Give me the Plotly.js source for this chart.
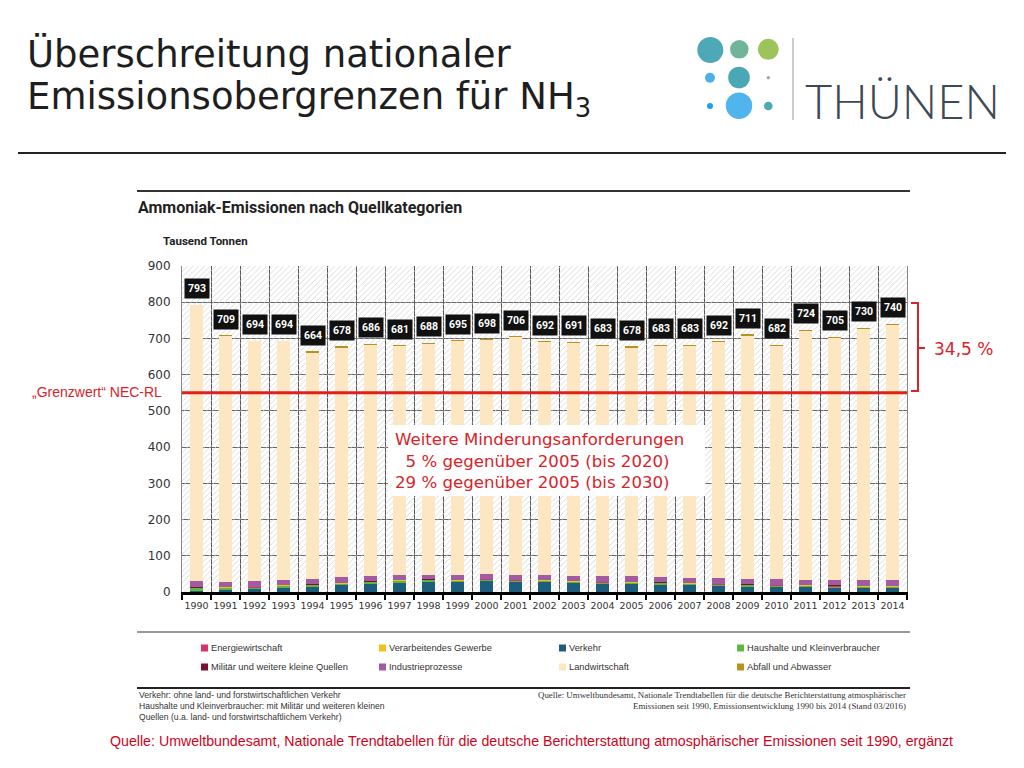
<!DOCTYPE html>
<html>
<head>
<meta charset="utf-8">
<script src="https://cdn.plot.ly/plotly-3.0.1.min.js"></script>
<style>html,body{margin:0;padding:0;background:#fff;}#chart{width:1024px;height:768px;}</style>
</head>
<body>
<div id="chart"></div>
<script>
// ---------- data ----------
const years = ['1990','1991','1992','1993','1994','1995','1996','1997','1998','1999','2000','2001','2002','2003','2004','2005','2006','2007','2008','2009','2010','2011','2012','2013','2014'];
const totals = [793,709,694,694,664,678,686,681,688,695,698,706,692,691,683,678,683,683,692,711,682,724,705,730,740];
const verkehr = [3,5,8,12,14,18,23,26,28,27,31,28,27,25,23,22,19,18,16,14,14,13,12,11,11];
const haushalte = [7,6,4,4,4,4,4,4,4,3,3,3,3,3,3,3,5,4,4,4,3,3,3,3,3];
const energie = [1,1,1,1,1,1,1,1,1,1,1,1,1,1,1,1,1,1,1,1,1,1,1,1,1];
const verarbeitend = [1,1,1,1,1,1,1,1,1,1,1,1,1,1,1,1,1,1,1,1,1,1,1,1,1];
const militaer = [1,1,1,1,1,1,1,1,1,1,1,1,1,1,1,1,1,1,1,1,1,1,1,1,1];
const industrie = [18,14,16,14,14,16,14,13,13,13,14,14,15,14,15,15,15,15,15,16,15,14,14,15,15];
const landwirtschaft = [761,680,662,660,626,634,639,632,637,646,644,655,641,643,636,632,638,640,651,671,644,688,670,695,705];
const abfall = [1,1,1,1,3,3,3,3,3,3,3,3,3,3,3,3,3,3,3,3,3,3,3,3,3];
const grenzwert = 550;
const yMax = 900;

const seriesNames = ['Verkehr','Haushalte und Kleinverbraucher','Energiewirtschaft','Verarbeitendes Gewerbe','Militär und weitere kleine Quellen','Industrieprozesse','Landwirtschaft','Abfall und Abwasser'];
const seriesData = [verkehr, haushalte, energie, verarbeitend, militaer, industrie, landwirtschaft, abfall];
const seriesColors = ['#1f5d7d','#5cb83c','#d6336b','#f2c019','#7d0f33','#a25ba0','#fde6c2','#b8921c'];

const legendRows = [
  ['Energiewirtschaft','Verarbeitendes Gewerbe','Verkehr','Haushalte und Kleinverbraucher'],
  ['Militär und weitere kleine Quellen','Industrieprozesse','Landwirtschaft','Abfall und Abwasser']
];

// ---------- pixel helpers (layout only) ----------
const W = 1024, H = 768, L = 182, R = 907, T = 266, B = 592;
const px = x => (x - L) / (R - L);
const py = y => (B - y) / (B - T);

const RED = '#d8232a';

// ---------- traces ----------
const traces = [];
// hatched background
traces.push({
  type: 'bar', x: years, y: years.map(() => yMax), width: 1,
  xaxis: 'x', yaxis: 'y',
  marker: {color: 'rgba(0,0,0,0)', line: {width: 0},
    pattern: {shape: '/', fgcolor: '#d2d2d2', bgcolor: 'rgba(0,0,0,0)', size: 4, solidity: 0.2}},
  hoverinfo: 'skip', showlegend: false
});
seriesNames.forEach((n, i) => {
  traces.push({
    type: 'bar', name: n, x: years, y: seriesData[i], width: 0.45,
    xaxis: 'x2', yaxis: 'y2',
    marker: {color: seriesColors[i], line: {width: 0}},
    showlegend: false
  });
});

// ---------- shapes ----------
const shapes = [];
const line = (x0, y0, x1, y1, color, w) => shapes.push({type: 'line', xref: 'paper', yref: 'paper', x0: px(x0), y0: py(y0), x1: px(x1), y1: py(y1), line: {color: color, width: w}});
line(18, 153, 1006, 153, '#222', 2);
line(137, 191, 910, 191, '#333', 2);
line(137, 632, 910, 632, '#777', 1.5);
line(137, 688, 910, 688, '#222', 2);
line(793, 38, 793, 120, '#bbbbbb', 1.5);
// grenzwert line
shapes.push({type: 'line', xref: 'paper', yref: 'y', x0: 0, x1: 1, y0: grenzwert, y1: grenzwert, line: {color: '#e0201b', width: 3}});
// bracket
shapes.push({type: 'path', xref: 'paper', yref: 'paper',
  path: `M ${px(911)} ${py(303)} L ${px(918)} ${py(303)} L ${px(918)} ${py(391)} L ${px(911)} ${py(391)} M ${px(918)} ${py(348)} L ${px(925)} ${py(348)}`,
  line: {color: RED, width: 2}});
// white box
shapes.push({type: 'rect', xref: 'paper', yref: 'paper', x0: px(388), x1: px(705), y0: py(425), y1: py(496), fillcolor: '#ffffff', line: {width: 0}, layer: 'above'});
// logo circles
const circles = [
  [710.3, 50, 13, '#4fa8b8'], [739.3, 49.3, 9.3, '#72b49a'], [768.3, 49.3, 10.5, '#9dc35b'],
  [710, 77.7, 5, '#4ab1e8'], [739, 77.5, 10.8, '#4aa8b5'], [768.3, 77.7, 1.7, '#9aaaaa'],
  [710, 106, 3, '#1fa0e6'], [739, 105.7, 13.2, '#4fb5ec'], [768.3, 106, 4.3, '#4aa9b5']
];
circles.forEach(c => shapes.push({type: 'circle', xref: 'paper', yref: 'paper',
  x0: px(c[0] - c[2]), x1: px(c[0] + c[2]), y0: py(c[1] + c[2]), y1: py(c[1] - c[2]),
  fillcolor: c[3], line: {width: 0}}));

// legend squares
const legCols = [201, 379, 559, 737];
const legRowsY = [648, 667];
const colorOf = n => seriesColors[seriesNames.indexOf(n)];
legendRows.forEach((row, r) => row.forEach((n, c) => {
  shapes.push({type: 'rect', xref: 'paper', yref: 'paper', x0: px(legCols[c]), x1: px(legCols[c] + 7), y0: py(legRowsY[r] + 3.5), y1: py(legRowsY[r] - 3.5), fillcolor: colorOf(n), line: {width: 0}});
}));

// ---------- annotations ----------
const ann = [];
const txt = (x, y, text, opts) => ann.push(Object.assign({xref: 'paper', yref: 'paper', x: px(x), y: py(y), text: text, showarrow: false, xanchor: 'left', yanchor: 'middle'}, opts));
txt(25, 54, 'Überschreitung nationaler', {font: {family: 'DejaVu Sans', size: 37, color: '#1e1e1e'}});
txt(25, 99, 'Emissionsobergrenzen für NH<sub>3</sub>', {font: {family: 'DejaVu Sans', size: 37, color: '#1e1e1e'}});
txt(803, 101, 'THÜNEN', {font: {family: 'Lato', size: 47, color: '#3d4a55', weight: 300}});
txt(136, 208, 'Ammoniak-Emissionen nach Quellkategorien', {font: {family: 'Roboto', size: 16, color: '#222', weight: 'bold'}});
txt(161, 241, 'Tausend Tonnen', {font: {family: 'Roboto', size: 11.5, color: '#222', weight: 'bold'}});
txt(164, 392, '„Grenzwert“ NEC-RL', {xanchor: 'right', font: {family: 'Liberation Sans', size: 14, color: RED}});
txt(932, 349, '34,5 %', {font: {family: 'DejaVu Sans', size: 17, color: RED}});
txt(393, 461, 'Weitere Minderungsanforderungen<br>&nbsp;&nbsp;5 % gegenüber 2005 (bis 2020)<br>29 % gegenüber 2005 (bis 2030)', {align: 'left', font: {family: 'DejaVu Sans', size: 16.6, color: RED}});
legendRows.forEach((row, r) => row.forEach((n, c) => {
  txt(legCols[c] + 8, legRowsY[r], n, {font: {family: 'Liberation Sans', size: 9.3, color: '#333'}});
}));
const fn = {family: 'Liberation Sans', size: 8.6, color: '#333'};
txt(137, 695, 'Verkehr: ohne land- und forstwirtschaftlichen Verkehr', {font: fn});
txt(137, 706, 'Haushalte und Kleinverbraucher: mit Militär und weiteren kleinen', {font: fn});
txt(137, 717, 'Quellen (u.a. land- und forstwirtschaftlichem Verkehr)', {font: fn});
const fs = {family: 'Liberation Serif', size: 8.9, color: '#333'};
txt(908, 695, 'Quelle: Umweltbundesamt, Nationale Trendtabellen für die deutsche Berichterstattung atmosphärischer', {xanchor: 'right', font: fs});
txt(908, 706, 'Emissionen seit 1990, Emissionsentwicklung 1990 bis 2014 (Stand 03/2016)', {xanchor: 'right', font: fs});
txt(531, 741, 'Quelle: Umweltbundesamt, Nationale Trendtabellen für die deutsche Berichterstattung atmosphärischer Emissionen seit 1990, ergänzt', {xanchor: 'center', font: {family: 'Liberation Sans', size: 14.2, color: '#d0021b'}});

// value labels (x given as category index)
years.forEach((yr, i) => ann.push({
  xref: 'x', yref: 'y', x: i, y: totals[i], text: String(totals[i]), showarrow: false,
  xanchor: 'center', yanchor: 'middle', yshift: 16, bgcolor: '#111', borderpad: 3,
  font: {family: 'Roboto', size: 10.5, color: '#fff', weight: 'bold'}
}));

const layout = {
  width: W, height: H,
  margin: {l: L, r: W - R, t: T, b: H - B},
  paper_bgcolor: '#fff', plot_bgcolor: '#fff',
  font: {family: 'DejaVu Sans', color: '#333'},
  barmode: 'stack', showlegend: false,
  xaxis: {type: 'category', categoryarray: years, range: [-0.5, 24.5], tickson: 'boundaries', tickangle: 0,
    showgrid: true, gridcolor: '#555', gridwidth: 1, ticks: 'outside', ticklen: 5, tickcolor: '#000', tickwidth: 1.5,
    ticklabelstandoff: 3,
    showline: true, linecolor: '#000', linewidth: 3, tickfont: {family: 'DejaVu Sans', size: 9.5, color: '#333'}, fixedrange: true},
  yaxis: {range: [0, yMax], dtick: 100, showgrid: true, gridcolor: '#666', gridwidth: 1, zeroline: false,
    showline: true, linecolor: '#888', mirror: true, ticks: '', ticklabelstandoff: 8,
    tickfont: {family: 'DejaVu Sans', size: 12, color: '#333'}, fixedrange: true},
  xaxis2: {type: 'category', categoryarray: years, range: [-0.5, 24.5], overlaying: 'x', visible: false, fixedrange: true},
  yaxis2: {range: [0, yMax], overlaying: 'y', visible: false, fixedrange: true},
  shapes: shapes, annotations: ann
};

Plotly.newPlot('chart', traces, layout, {displayModeBar: false, staticPlot: true});
</script>
</body>
</html>
